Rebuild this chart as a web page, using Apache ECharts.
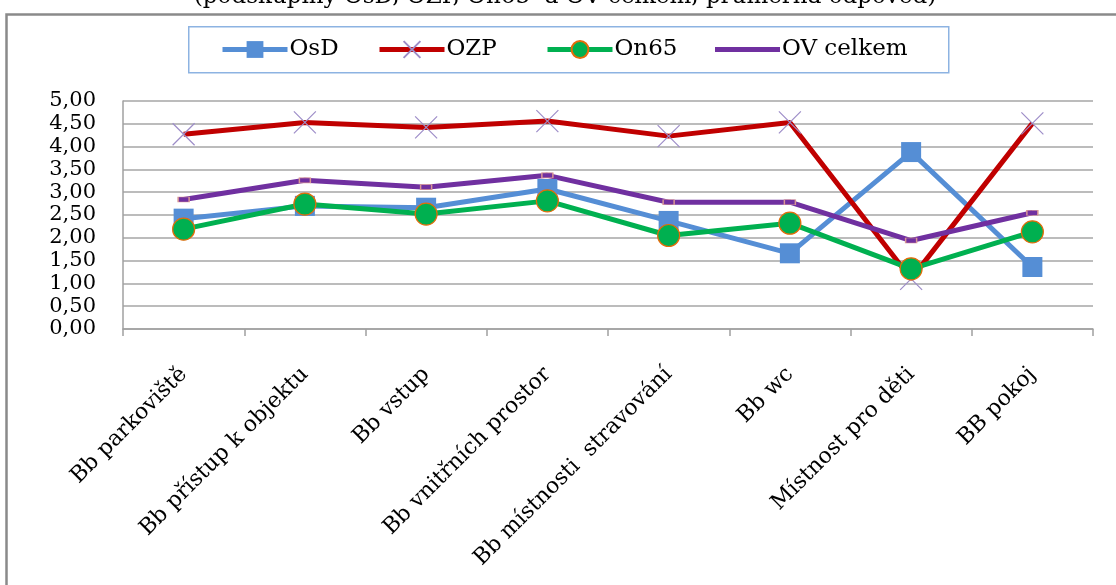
<!DOCTYPE html>
<html>
<head>
<meta charset="utf-8">
<script src="https://cdn.jsdelivr.net/npm/echarts@6/dist/echarts.min.js"></script>
<style>
html,body{margin:0;padding:0;background:#fff;}
#chart{width:1116px;height:585px;}
</style>
</head>
<body>
<div id="chart"></div>
<script>
const titleText = '(podskupiny OsD, OZP, On65  a OV celkem, průměrná odpověď)';
const categories = ['Bb parkoviště', 'Bb přístup k objektu', 'Bb vstup', 'Bb vnitřních prostor', 'Bb místnosti  stravování', 'Bb wc', 'Místnost pro děti', 'BB pokoj'];
const seriesNames = ['OsD', 'OZP', 'On65', 'OV celkem'];
const osd = [2.42, 2.70, 2.66, 3.07, 2.37, 1.66, 3.88, 1.36];
const ozp = [4.27, 4.53, 4.42, 4.56, 4.23, 4.53, 1.10, 4.51];
const on65 = [2.19, 2.74, 2.52, 2.81, 2.05, 2.32, 1.32, 2.13];
const ovCelkem = [2.84, 3.26, 3.11, 3.37, 2.78, 2.78, 1.94, 2.55];
const yTickLabels = ['0,00', '0,50', '1,00', '1,50', '2,00', '2,50', '3,00', '3,50', '4,00', '4,50', '5,00'];

const FONT = 'DejaVu Serif';
const legendLefts = [220, 377, 545, 715];
const chart = echarts.init(document.getElementById('chart'), null, {renderer: 'canvas'});

function makeLegend(i) {
  const item = {name: seriesNames[i]};
  if (i === 3) {
    item.icon = 'path://M0,0H65V5H0Z';
    item.itemStyle = {borderWidth: 0};
  }
  return {
    left: legendLefts[i], top: 38, padding: 0,
    itemWidth: 65, itemHeight: 21,
    lineStyle: {width: 5},
    textStyle: {fontFamily: FONT, fontSize: 23, color: '#000', padding: [0, 0, 0, -3]},
    data: [item]
  };
}

chart.setOption({
  animation: false,
  backgroundColor: '#ffffff',
  graphic: [
    {
      type: 'rect', left: 4, top: 12, z: -1, silent: true,
      shape: {width: 1200, height: 700},
      style: {fill: 'none', stroke: '#8a8a8a', lineWidth: 2.5}
    },
    {
      type: 'rect', left: 188, top: 26, z: 0, silent: true,
      shape: {width: 760, height: 46},
      style: {fill: '#fff', stroke: '#8db3e2', lineWidth: 1.5}
    },
    {
      type: 'text', x: 565, y: 9, silent: true,
      style: {text: titleText, fill: '#000', font: '23px "' + FONT + '"', textAlign: 'center', textVerticalAlign: 'bottom'}
    }
  ],
  legend: [0, 1, 2, 3].map(makeLegend),
  grid: {left: 123, right: 23, top: 101, bottom: 256, containLabel: false},
  xAxis: {
    type: 'category', data: categories, boundaryGap: true,
    axisLine: {show: true, lineStyle: {color: '#a0a0a0', width: 1.5}},
    axisTick: {show: true, interval: 0, length: 7, lineStyle: {color: '#a0a0a0', width: 1.5}},
    axisLabel: {interval: 0, rotate: 45, margin: 42, fontFamily: FONT, fontSize: 22, color: '#000'},
    splitLine: {show: false}
  },
  yAxis: {
    type: 'value', min: 0, max: 5, interval: 0.5,
    axisLine: {show: true, lineStyle: {color: '#a0a0a0', width: 1.5}},
    axisTick: {show: false},
    axisLabel: {margin: 27, fontFamily: FONT, fontSize: 21, color: '#000',
      formatter: v => yTickLabels[Math.round(v / 0.5)]},
    splitLine: {show: true, lineStyle: {color: '#a6a6a6', width: 1.5}}
  },
  series: [
    {
      name: seriesNames[0], type: 'line', data: osd,
      symbol: 'rect', symbolSize: 20,
      lineStyle: {color: '#558ed5', width: 5},
      itemStyle: {color: '#558ed5', borderWidth: 0},
      emphasis: {disabled: true}
    },
    {
      name: seriesNames[1], type: 'line', data: ozp,
      symbol: 'path://M0,0L10,10M10,0L0,10', symbolSize: 22,
      lineStyle: {color: '#c00000', width: 5},
      itemStyle: {color: 'rgba(0,0,0,0)', borderColor: '#9d8dc8', borderWidth: 1.2},
      emphasis: {disabled: true}
    },
    {
      name: seriesNames[2], type: 'line', data: on65,
      symbol: 'circle', symbolSize: 22,
      lineStyle: {color: '#00b050', width: 5},
      itemStyle: {color: '#00b050', borderColor: '#e46c0a', borderWidth: 1.2},
      emphasis: {disabled: true}
    },
    {
      name: seriesNames[3], type: 'line', data: ovCelkem,
      symbol: 'rect', symbolSize: [11, 5],
      lineStyle: {color: '#7030a0', width: 5},
      itemStyle: {color: '#7030a0', borderColor: '#d99694', borderWidth: 1},
      emphasis: {disabled: true}
    }
  ]
});
</script>
</body>
</html>
